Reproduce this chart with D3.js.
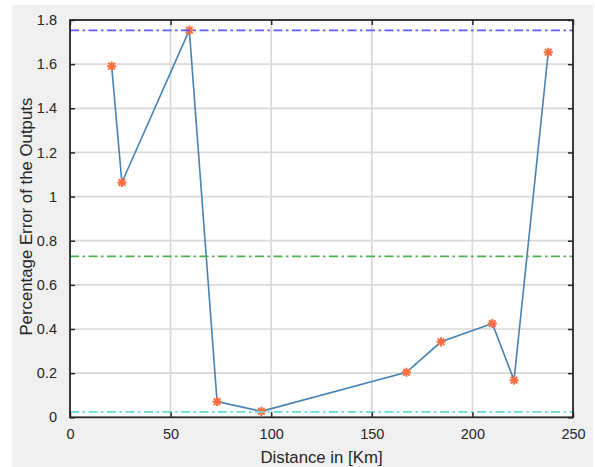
<!DOCTYPE html>
<html>
<head>
<meta charset="utf-8">
<script src="https://cdn.jsdelivr.net/npm/d3@7"></script>
<style>
  body { margin: 0; background: #ffffff; }
  svg { display: block; font-family: "Liberation Sans", Arial, sans-serif; }
</style>
</head>
<body>
<svg width="595" height="467"></svg>
<script>
const width = 595;
const height = 467;

// data
const distance = [20.7, 25.8, 59.3, 73.1, 95.1, 167.2, 184.4, 209.9, 220.7, 237.7];
const pctError = [1.591, 1.064, 1.754, 0.071, 0.027, 0.204, 0.342, 0.425, 0.168, 1.654];

// max / mean / min reference lines
const refValues = [1.753, 0.729, 0.025];
const refColors = ["#5c5cff", "#4caf50", "#66d9d9"];

const xTicks = [0, 50, 100, 150, 200, 250];
const xTickLabels = ["0", "50", "100", "150", "200", "250"];
const yTicks = [0, 0.2, 0.4, 0.6, 0.8, 1, 1.2, 1.4, 1.6, 1.8];
const yTickLabels = ["0", "0.2", "0.4", "0.6", "0.8", "1", "1.2", "1.4", "1.6", "1.8"];

const xLabel = "Distance in [Km]";
const yLabel = "Percentage Error of the Outputs";

const plotLeft = 70, plotRight = 573, plotTop = 20, plotBottom = 417.3;
const axisColor = "#262626";

const svg = d3.select("svg");

//figure background
svg.append("rect")
    .attr("x", 12).attr("y", 5)
    .attr("width", 581).attr("height", height - 5)
    .attr("fill", "#f0f0f0");

svg.append("rect")
    .attr("x", plotLeft).attr("y", plotTop)
    .attr("width", plotRight - plotLeft).attr("height", plotBottom - plotTop)
    .attr("fill", "#ffffff");

const x = d3.scaleLinear().domain([0, 250]).range([plotLeft, plotRight]);
const y = d3.scaleLinear().domain([0, 1.8]).range([plotBottom, plotTop]);

//grid
const grid = svg.append("g");
grid.selectAll(".gx")
    .data(xTicks.slice(1, -1))
    .enter()
    .append("line")
    .attr("x1", d => x(d)).attr("x2", d => x(d))
    .attr("y1", plotTop).attr("y2", plotBottom)
    .attr("stroke", "#d9d9d9").attr("stroke-width", 1.7);
grid.selectAll(".gy")
    .data(yTicks.slice(1, -1))
    .enter()
    .append("line")
    .attr("x1", plotLeft).attr("x2", plotRight)
    .attr("y1", d => y(d)).attr("y2", d => y(d))
    .attr("stroke", "#d9d9d9").attr("stroke-width", 1.7);

//data line
const line = d3.line()
    .x((d, i) => x(distance[i]))
    .y(d => y(d));

svg.append("path")
    .datum(pctError)
    .attr("d", line)
    .attr("fill", "none")
    .attr("stroke", "#4682b4")
    .attr("stroke-width", 1.6);

//asterisk markers
const r = 4.6, rd = r * 0.72;
const star = `M${-r},0L${r},0M0,${-r}L0,${r}M${-rd},${-rd}L${rd},${rd}M${-rd},${rd}L${rd},${-rd}`;
svg.append("g")
    .selectAll("path")
    .data(pctError)
    .enter()
    .append("path")
    .attr("transform", (d, i) => "translate(" + x(distance[i]) + "," + y(d) + ")")
    .attr("d", star)
    .attr("fill", "none")
    .attr("stroke", "#ff6e40")
    .attr("stroke-width", 2);

//reference lines
svg.append("g")
    .selectAll("line")
    .data(refValues)
    .enter()
    .append("line")
    .attr("x1", plotLeft).attr("x2", plotRight)
    .attr("y1", d => y(d)).attr("y2", d => y(d))
    .attr("stroke", (d, i) => refColors[i])
    .attr("stroke-width", 1.7)
    .attr("stroke-dasharray", "9,3.5,2.5,3.5");

//axes, box on with inward ticks
const tick = 5;
const axisStyle = g => {
    g.select(".domain").remove();
    g.selectAll("line").attr("stroke", axisColor).attr("stroke-width", 1.5);
    g.selectAll("text")
        .attr("fill", axisColor)
        .style("font-size", "14.5px")
        .style("font-family", "'Liberation Sans', Arial, sans-serif");
};

svg.append("g")
    .attr("transform", "translate(0," + plotBottom + ")")
    .call(d3.axisBottom(x).tickValues(xTicks)
        .tickFormat((d, i) => xTickLabels[i])
        .tickSizeInner(-tick).tickPadding(11))
    .call(axisStyle);

svg.append("g")
    .attr("transform", "translate(0," + plotTop + ")")
    .call(d3.axisTop(x).tickValues(xTicks).tickFormat("").tickSizeInner(-tick))
    .call(axisStyle);

svg.append("g")
    .attr("transform", "translate(" + plotLeft + ",0)")
    .call(d3.axisLeft(y).tickValues(yTicks)
        .tickFormat((d, i) => yTickLabels[i])
        .tickSizeInner(-tick).tickPadding(13))
    .call(axisStyle);

svg.append("g")
    .attr("transform", "translate(" + plotRight + ",0)")
    .call(d3.axisRight(y).tickValues(yTicks).tickFormat("").tickSizeInner(-tick))
    .call(axisStyle);

//box
svg.append("rect")
    .attr("x", plotLeft).attr("y", plotTop)
    .attr("width", plotRight - plotLeft).attr("height", plotBottom - plotTop)
    .attr("fill", "none")
    .attr("stroke", axisColor)
    .attr("stroke-width", 1.8);

//labels
svg.append("text")
    .attr("x", (plotLeft + plotRight) / 2)
    .attr("y", 462.5)
    .attr("text-anchor", "middle")
    .attr("fill", axisColor)
    .style("font-size", "16.8px")
    .text(xLabel);

svg.append("text")
    .attr("transform", "translate(32," + ((plotTop + plotBottom) / 2 - 2) + ") rotate(-90)")
    .attr("text-anchor", "middle")
    .attr("fill", axisColor)
    .style("font-size", "16.8px")
    .text(yLabel);
</script>
</body>
</html>
